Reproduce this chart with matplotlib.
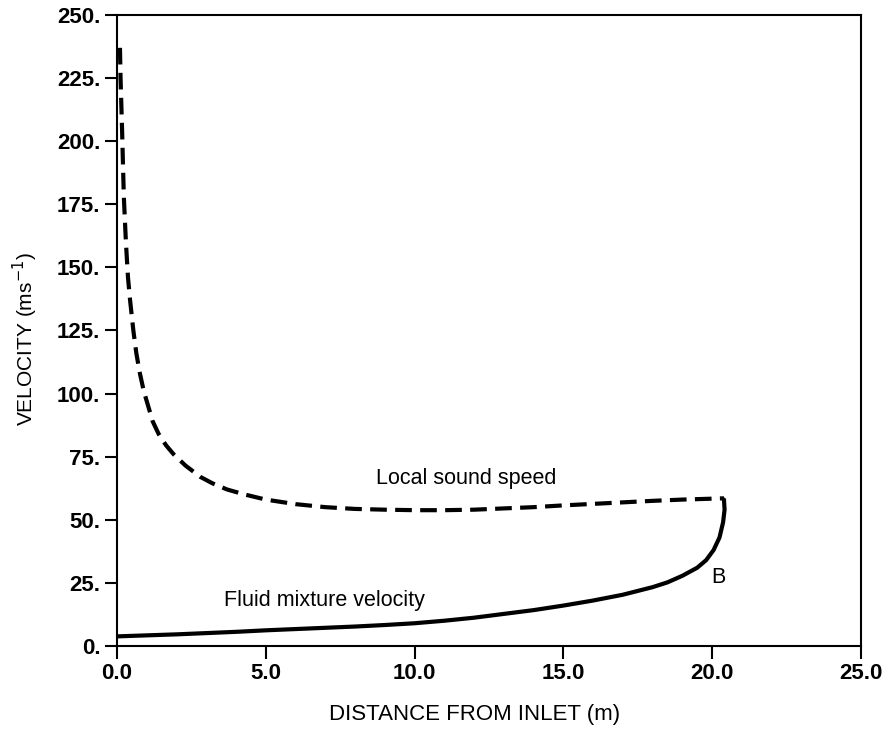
import matplotlib.pyplot as plt
import numpy as np

plt.rcParams['font.family'] = ['Liberation Sans', 'DejaVu Sans']

# Local sound speed (dashed)
sound_x = [0.1, 0.12, 0.17, 0.23, 0.3, 0.37, 0.44, 0.55, 0.65, 0.77, 0.9, 1.05,
           1.2, 1.4, 1.65, 1.9, 2.3, 2.8, 3.2, 3.7, 4.3, 5.0, 6.0, 7.0, 8.0,
           9.0, 10.0, 11.0, 12.0, 13.0, 14.0, 15.0, 16.0, 17.0, 18.0, 19.0, 20.4]
sound_v = [237, 225, 205, 178, 160, 146, 137, 125, 116, 108, 101, 95,
           89, 84, 79.5, 76, 71.5, 67, 64.5, 62, 60, 58, 56.2, 55, 54.3,
           54, 53.8, 53.8, 54, 54.5, 55, 55.7, 56.3, 56.9, 57.5, 58, 58.5]

# Fluid mixture velocity (solid)
mix_x = [0, 1, 2, 3, 4, 5, 6, 7, 8, 9, 10, 11, 12, 13, 14, 15, 16, 17, 18,
         18.5, 19.0, 19.5, 19.8, 20.05, 20.25, 20.37, 20.42, 20.4]
mix_v = [3.8, 4.2, 4.6, 5.1, 5.6, 6.2, 6.7, 7.2, 7.7, 8.3, 9.0, 10.0, 11.2,
         12.7, 14.2, 16.0, 18.0, 20.3, 23.3, 25.2, 27.8, 31.0, 34.0, 38.0,
         43.0, 49.0, 54.0, 58.0]

x_ticks = [0, 5, 10, 15, 20, 25]
y_ticks = [0, 25, 50, 75, 100, 125, 150, 175, 200, 225, 250]

fig = plt.figure(figsize=(8.93, 7.29), dpi=100)
ax = fig.add_axes([0.131, 0.1139, 0.833, 0.8655])

ax.plot(sound_x, sound_v, color='black', lw=3, dashes=(4, 2), solid_capstyle='butt')
ax.plot(mix_x, mix_v, color='black', lw=3, solid_capstyle='round',
        solid_joinstyle='round')

ax.set_xlim(0, 25)
ax.set_ylim(0, 250)
ax.set_xticks(x_ticks)
ax.set_xticklabels(['%.1f' % v for v in x_ticks], fontsize=16, fontweight='bold')
ax.set_yticks(y_ticks)
ax.set_yticklabels(['%d.' % v for v in y_ticks], fontsize=16, fontweight='bold')
ax.tick_params(direction='out', length=9, width=1.5, pad=3)
for s in ax.spines.values():
    s.set_linewidth(1.5)

ax.set_xlabel('DISTANCE FROM INLET (m)', fontsize=16)
ax.set_ylabel('VELOCITY (ms$^{-1}$)', fontsize=15)
ax.xaxis.set_label_coords(0.481, -0.092)
ax.yaxis.set_label_coords(-0.104, 0.487)

ax.text(8.7, 66.4, 'Local sound speed', fontsize=15.5, ha='left', va='center')
ax.text(3.6, 18, 'Fluid mixture velocity', fontsize=15.5, ha='left', va='center')
ax.text(20.2, 27, 'B', fontsize=15.5, ha='center', va='center')

fig.savefig('out.png', dpi=100)
